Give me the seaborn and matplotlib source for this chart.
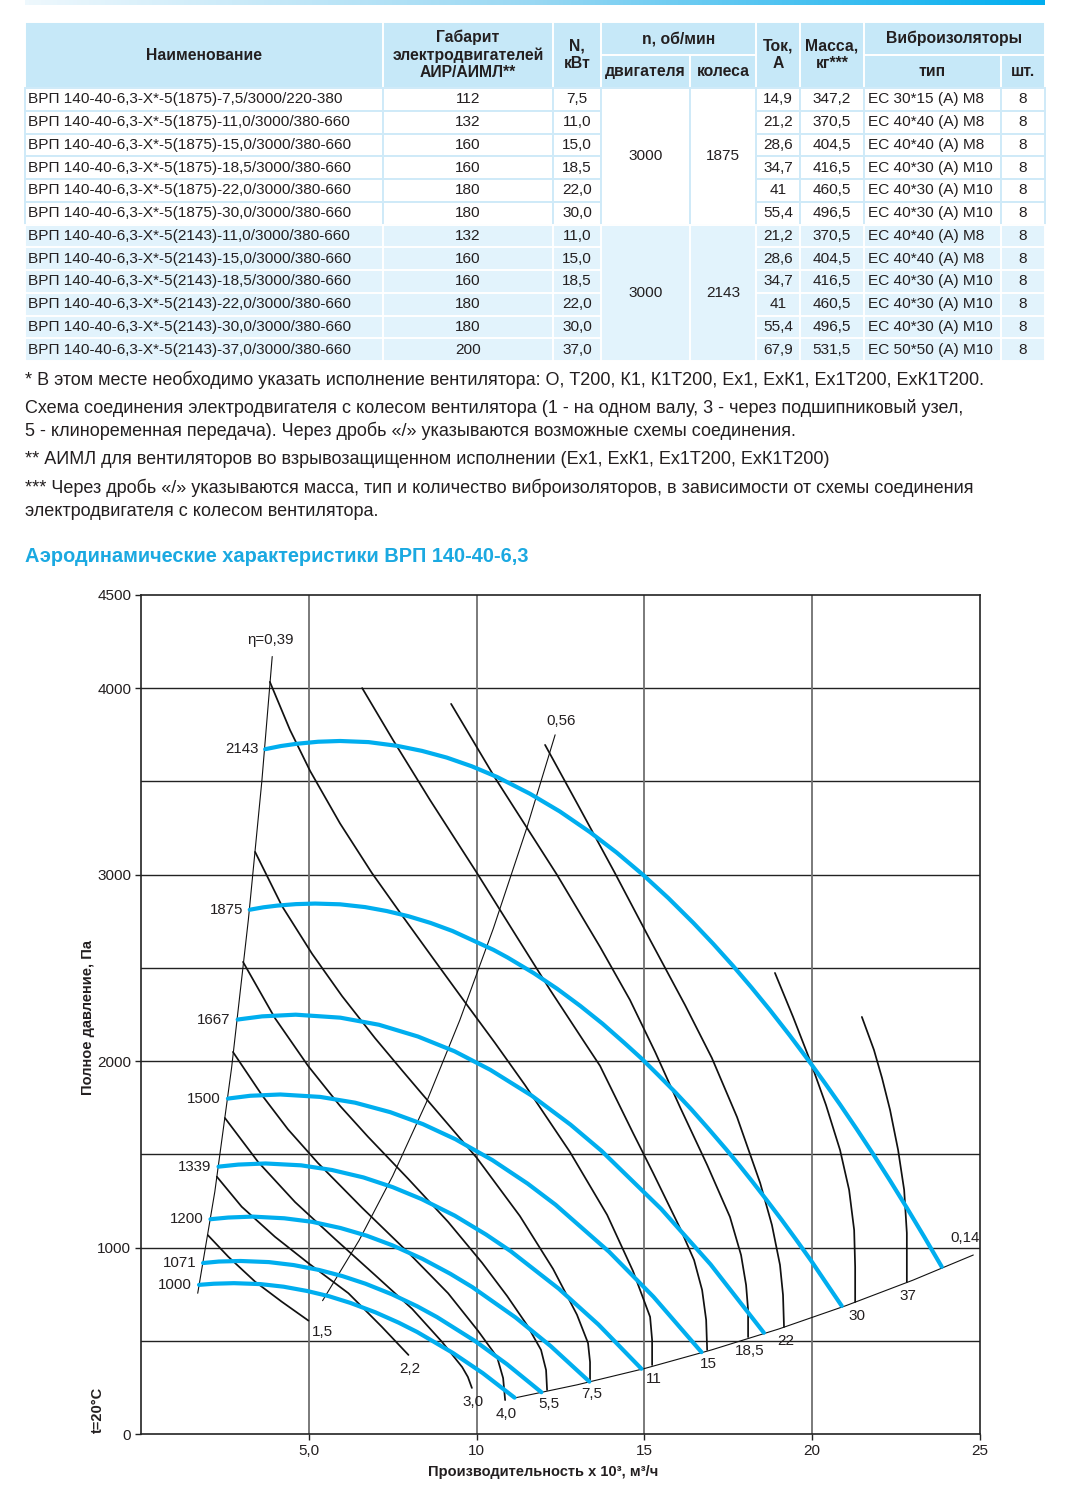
import numpy as np
import pandas as pd
import matplotlib
matplotlib.use("Agg")
import matplotlib.pyplot as plt
from matplotlib.colors import LinearSegmentedColormap
from matplotlib.patches import Rectangle
import seaborn as sns

# ---- таблица
names = [
    "ВРП 140-40-6,3-Х*-5(1875)-7,5/3000/220-380",
    "ВРП 140-40-6,3-Х*-5(1875)-11,0/3000/380-660",
    "ВРП 140-40-6,3-Х*-5(1875)-15,0/3000/380-660",
    "ВРП 140-40-6,3-Х*-5(1875)-18,5/3000/380-660",
    "ВРП 140-40-6,3-Х*-5(1875)-22,0/3000/380-660",
    "ВРП 140-40-6,3-Х*-5(1875)-30,0/3000/380-660",
    "ВРП 140-40-6,3-Х*-5(2143)-11,0/3000/380-660",
    "ВРП 140-40-6,3-Х*-5(2143)-15,0/3000/380-660",
    "ВРП 140-40-6,3-Х*-5(2143)-18,5/3000/380-660",
    "ВРП 140-40-6,3-Х*-5(2143)-22,0/3000/380-660",
    "ВРП 140-40-6,3-Х*-5(2143)-30,0/3000/380-660",
    "ВРП 140-40-6,3-Х*-5(2143)-37,0/3000/380-660",
]
gabarit = ["112", "132", "160", "160", "180", "180", "132", "160", "160", "180", "180", "200"]
power_kw = ["7,5", "11,0", "15,0", "18,5", "22,0", "30,0", "11,0", "15,0", "18,5", "22,0", "30,0", "37,0"]
n_motor = ["3000", "3000"]
n_wheel = ["1875", "2143"]
current = ["14,9", "21,2", "28,6", "34,7", "41", "55,4", "21,2", "28,6", "34,7", "41", "55,4", "67,9"]
mass = ["347,2", "370,5", "404,5", "416,5", "460,5", "496,5", "370,5", "404,5", "416,5", "460,5", "496,5", "531,5"]
vibro = ["ЕС 30*15 (А) М8", "ЕС 40*40 (А) М8", "ЕС 40*40 (А) М8", "ЕС 40*30 (А) М10",
         "ЕС 40*30 (А) М10", "ЕС 40*30 (А) М10", "ЕС 40*40 (А) М8", "ЕС 40*40 (А) М8",
         "ЕС 40*30 (А) М10", "ЕС 40*30 (А) М10", "ЕС 40*30 (А) М10", "ЕС 50*50 (А) М10"]
qty = ["8"] * 12

notes = [
    "* В этом месте необходимо указать исполнение вентилятора: О, Т200, К1, К1Т200, Ех1, ЕхК1, Ех1Т200, ЕхК1Т200.",
    "Схема соединения электродвигателя с колесом вентилятора (1 - на одном валу, 3 - через подшипниковый узел,",
    "5 - клиноременная передача). Через дробь «/» указываются возможные схемы соединения.",
    "** АИМЛ для вентиляторов во взрывозащищенном исполнении (Ех1, ЕхК1, Ех1Т200, ЕхК1Т200)",
    "*** Через дробь «/» указываются масса, тип и количество виброизоляторов, в зависимости от схемы соединения",
    "электродвигателя с колесом вентилятора.",
]

# ---- характеристики: кривые по оборотам колеса (Q, тыс. м3/ч; P, Па)
q_2143 = [3.70, 4.17, 4.64, 5.28, 5.93, 6.78, 7.63, 8.37, 9.11, 9.86, 10.61, 11.59, 12.48, 13.38, 14.17, 14.96,
          15.71, 16.46, 17.05, 17.64, 18.19, 18.74, 19.33, 19.93, 20.38, 20.83, 21.32, 21.81, 22.32, 22.82, 23.34, 23.86]
p_2143 = [3673, 3690, 3702, 3713, 3717, 3711, 3691, 3664, 3628, 3581, 3524, 3434, 3339, 3228, 3119, 2999,
          2875, 2741, 2629, 2511, 2395, 2274, 2138, 1994, 1882, 1767, 1637, 1503, 1359, 1213, 1057, 897]
q_1875 = [3.24, 3.65, 4.06, 4.62, 5.19, 5.93, 6.68, 7.32, 7.97, 8.63, 9.28, 10.50, 10.92, 11.71, 12.40, 13.09,
          13.75, 14.40, 14.92, 15.43, 15.92, 16.40, 16.91, 17.44, 17.83, 18.22, 18.65, 19.08, 19.53, 19.97, 20.42, 20.88]
p_1875 = [2812, 2825, 2834, 2842, 2845, 2841, 2826, 2805, 2777, 2741, 2698, 2597, 2556, 2471, 2388, 2296,
          2201, 2098, 2013, 1922, 1833, 1741, 1637, 1526, 1441, 1353, 1253, 1151, 1040, 929, 809, 687]
q_1667 = [2.88, 3.61, 4.61, 5.94, 7.09, 8.25, 9.34, 10.41, 11.64, 12.80, 13.72, 15.50, 16.97, 18.56]
p_1667 = [2223, 2240, 2249, 2233, 2195, 2132, 2053, 1953, 1815, 1659, 1519, 1207, 910, 543]
q_1500 = [2.59, 3.25, 4.15, 5.34, 6.38, 7.43, 8.40, 9.37, 10.47, 11.52, 12.35, 13.95, 15.27, 16.70]
p_1500 = [1799, 1814, 1821, 1808, 1777, 1726, 1662, 1581, 1469, 1343, 1230, 977, 736, 439]
q_1339 = [2.31, 2.90, 3.71, 4.77, 5.69, 6.63, 7.50, 8.36, 9.35, 10.28, 11.02, 12.45, 13.63, 14.91]
p_1339 = [1434, 1445, 1451, 1441, 1416, 1376, 1324, 1260, 1171, 1070, 980, 779, 587, 350]
q_1200 = [2.07, 2.60, 3.32, 4.27, 5.10, 5.94, 6.72, 7.49, 8.38, 9.22, 9.88, 11.16, 12.21, 13.36]
p_1200 = [1152, 1161, 1166, 1157, 1138, 1105, 1064, 1012, 940, 859, 787, 625, 471, 281]
q_1071 = [1.85, 2.32, 2.96, 3.81, 4.55, 5.30, 6.00, 6.69, 7.48, 8.23, 8.82, 9.96, 10.90, 11.93]
p_1071 = [917, 925, 928, 922, 906, 880, 847, 806, 749, 685, 627, 498, 375, 224]
q_1000 = [1.73, 2.17, 2.77, 3.56, 4.25, 4.95, 5.60, 6.24, 6.98, 7.68, 8.23, 9.30, 10.18, 11.13]
p_1000 = [800, 806, 809, 804, 790, 767, 739, 703, 653, 597, 547, 434, 327, 195]
rpm_labels = ["2143", "1875", "1667", "1500", "1339", "1200", "1071", "1000"]
rpm_q = [q_2143, q_1875, q_1667, q_1500, q_1339, q_1200, q_1071, q_1000]
rpm_p = [p_2143, p_1875, p_1667, p_1500, p_1339, p_1200, p_1071, p_1000]

# ---- кривые мощности, кВт
q_n1_5 = [1.99, 2.60, 3.40, 4.19, 4.99]
p_n1_5 = [1067, 951, 817, 710, 608]
q_n2_2 = [2.26, 3.00, 3.99, 4.99, 6.18, 7.17, 7.97]
p_n2_2 = [1380, 1219, 1058, 916, 755, 576, 424]
q_n3_0 = [2.50, 3.49, 4.59, 5.78, 6.97, 8.08, 8.97, 9.57, 9.74, 9.86]
p_n3_0 = [1695, 1459, 1244, 1046, 853, 671, 494, 359, 306, 247]
q_n4_0 = [2.74, 3.61, 4.38, 5.27, 6.59, 7.96, 9.15, 10.04, 10.61, 10.79, 10.85]
p_n4_0 = [2049, 1816, 1634, 1454, 1213, 974, 755, 554, 413, 300, 182]
q_n5_5 = [3.04, 3.99, 4.98, 5.93, 6.76, 7.96, 9.15, 10.16, 10.91, 11.50, 11.92, 12.07, 12.10]
p_n5_5 = [2532, 2231, 1974, 1760, 1595, 1369, 1138, 919, 740, 585, 451, 343, 236]
q_n7_5 = [3.40, 4.20, 5.10, 5.99, 6.97, 7.78, 8.37, 10.01, 11.29, 12.28, 12.99, 13.32, 13.38, 13.38]
p_n7_5 = [3122, 2832, 2575, 2349, 2124, 1950, 1825, 1480, 1169, 885, 640, 488, 386, 290]
q_n11 = [3.84, 4.44, 5.04, 5.93, 6.88, 7.78, 8.76, 9.65, 10.55, 11.44, 12.78, 13.89, 14.66, 15.17, 15.23, 15.23]
p_n11 = [4034, 3776, 3556, 3275, 3009, 2781, 2537, 2317, 2097, 1872, 1513, 1175, 874, 628, 504, 370]
q_n15 = [6.59, 7.51, 8.61, 10.01, 11.20, 12.19, 13.17, 13.68, 14.66, 15.26, 16.06, 16.48, 16.72, 16.84, 16.87]
p_n15 = [4001, 3722, 3401, 3009, 2666, 2382, 2113, 1974, 1615, 1400, 1105, 933, 772, 612, 451]
q_n18_5 = [9.24, 10.55, 12.40, 13.68, 14.57, 15.32, 16.06, 16.87, 17.55, 17.88, 18.03, 18.09, 18.09]
p_n18_5 = [3916, 3519, 2998, 2612, 2328, 2049, 1754, 1443, 1164, 960, 799, 665, 520]
q_n22 = [12.04, 13.02, 14.12, 15.17, 16.21, 17.01, 17.76, 18.45, 18.80, 19.04, 19.13, 19.16]
p_n22 = [3696, 3374, 3009, 2650, 2301, 2017, 1700, 1346, 1121, 907, 746, 574]
q_n30 = [18.89, 19.43, 19.93, 20.41, 20.83, 21.10, 21.25, 21.28, 21.28]
p_n30 = [2473, 2237, 2006, 1765, 1523, 1309, 1094, 896, 708]
q_n37 = [21.48, 21.84, 22.08, 22.32, 22.56, 22.74, 22.82, 22.82]
p_n37 = [2237, 2060, 1910, 1738, 1523, 1309, 1078, 815]
pw_labels = ["1,5", "2,2", "3,0", "4,0", "5,5", "7,5", "11", "15", "18,5", "22", "30", "37"]
pw_q = [q_n1_5, q_n2_2, q_n3_0, q_n4_0, q_n5_5, q_n7_5, q_n11, q_n15, q_n18_5, q_n22, q_n30, q_n37]
pw_p = [p_n1_5, p_n2_2, p_n3_0, p_n4_0, p_n5_5, p_n7_5, p_n11, p_n15, p_n18_5, p_n22, p_n30, p_n37]

# ---- линии КПД
q_eta39 = [1.69, 2.20, 2.70, 3.20, 3.60, 3.91]
p_eta39 = [755, 1300, 1965, 2760, 3500, 4170]
q_eta56 = [5.41, 6.50, 7.50, 8.50, 9.50, 10.50, 11.50, 12.34]
p_eta56 = [715, 1039, 1384, 1777, 2220, 2712, 3253, 3750]
q_eta14 = [11.10, 13.0, 15.0, 17.0, 19.0, 21.0, 23.0, 24.80]
p_eta14 = [192, 264, 351, 451, 563, 688, 825, 960]

# ---- оформление
TXT = "#231f20"
BLUE = "#00aeef"
HEAD = "#c6e8f8"
ROW2 = "#e2f3fc"
SEP = "#cfeaf8"

sns.set_theme(style="white")
plt.rcParams["font.family"] = ["Liberation Sans", "DejaVu Sans"]
plt.rcParams["text.color"] = TXT

fig = plt.figure(figsize=(10.71, 14.92), dpi=100)

# подложка в пикселях для таблицы и текста
bg = fig.add_axes([0, 0, 1, 1])
bg.set_xlim(0, 1071)
bg.set_ylim(1492, 0)
bg.axis("off")

grad = LinearSegmentedColormap.from_list("bar", ["#eef8fd", "#9ad8f3", "#00adef"])
bg.imshow(np.linspace(0, 1, 256)[None, :], extent=(25, 1045, 5, 0), aspect="auto", cmap=grad)

cols = [25, 383, 553, 601, 690, 756, 800, 864, 1001, 1045]
top, mid, hb = 22, 55, 88
rh = (361 - hb) / len(names)
FS = 11.1


def cell(x0, x1, y0, y1, fc, ec="white"):
    bg.add_patch(Rectangle((x0, y0), x1 - x0, y1 - y0, facecolor=fc, edgecolor=ec, lw=1.4))


def ctext(x0, x1, y0, y1, s, fs=FS, **kw):
    bg.text((x0 + x1) / 2, (y0 + y1) / 2, s, ha="center", va="center", fontsize=fs, **kw)


# шапка
for i in [0, 1, 2, 5, 6]:
    cell(cols[i], cols[i + 1], top, hb, HEAD)
for i in [3, 7]:
    cell(cols[i], cols[i + 2], top, mid, HEAD)
for i in [3, 4, 7, 8]:
    cell(cols[i], cols[i + 1], mid, hb, HEAD)
hk = dict(fs=11.3, fontweight="bold", linespacing=1.2)
ctext(cols[0], cols[1], top, hb, "Наименование", **hk)
ctext(cols[1], cols[2], top, hb, "Габарит\nэлектродвигателей\nАИР/АИМЛ**", **hk)
ctext(cols[2], cols[3], top, hb, "N,\nкВт", **hk)
ctext(cols[3], cols[5], top, mid, "n, об/мин", **hk)
ctext(cols[3], cols[4], mid, hb, "двигателя", **hk)
ctext(cols[4], cols[5], mid, hb, "колеса", **hk)
ctext(cols[5], cols[6], top, hb, "Ток,\nА", **hk)
ctext(cols[6], cols[7], top, hb, "Масса,\nкг***", **hk)
ctext(cols[7], cols[9], top, mid, "Виброизоляторы", **hk)
ctext(cols[7], cols[8], mid, hb, "тип", **hk)
ctext(cols[8], cols[9], mid, hb, "шт.", **hk)

# строки
for r in range(len(names)):
    y0 = hb + r * rh
    y1 = y0 + rh
    grp = 0 if r < 6 else 1
    fc, ec = ("white", SEP) if grp == 0 else (ROW2, "white")
    for i in [0, 1, 2, 5, 6, 7, 8]:
        cell(cols[i], cols[i + 1], y0, y1, fc, ec)
    bg.text(cols[0] + 3, (y0 + y1) / 2, names[r], ha="left", va="center", fontsize=FS)
    ctext(cols[1], cols[2], y0, y1, gabarit[r])
    ctext(cols[2], cols[3], y0, y1, power_kw[r])
    ctext(cols[5], cols[6], y0, y1, current[r])
    ctext(cols[6], cols[7], y0, y1, mass[r])
    bg.text(cols[7] + 4, (y0 + y1) / 2, vibro[r], ha="left", va="center", fontsize=FS)
    ctext(cols[8], cols[9], y0, y1, qty[r])
for g in range(2):
    y0 = hb + g * 6 * rh
    y1 = y0 + 6 * rh
    fc, ec = ("white", SEP) if g == 0 else (ROW2, "white")
    cell(cols[3], cols[4], y0, y1, fc, ec)
    cell(cols[4], cols[5], y0, y1, fc, ec)
    ctext(cols[3], cols[4], y0, y1, n_motor[g])
    ctext(cols[4], cols[5], y0, y1, n_wheel[g])

# примечания и заголовок
for s, y in zip(notes, [380, 408, 431, 460, 488, 511]):
    bg.text(25, y, s, ha="left", va="center", fontsize=13.0)
bg.text(25, 557, "Аэродинамические характеристики ВРП 140-40-6,3", ha="left", va="center",
        fontsize=14.4, fontweight="bold", color="#1ba9e1")

# ---- график
ax = fig.add_axes([141 / 1071, 58 / 1492, 839 / 1071, 839 / 1492])

rpm_df = pd.concat([pd.DataFrame({"Q": q, "P": p, "n": lab})
                    for lab, q, p in zip(rpm_labels, rpm_q, rpm_p)], ignore_index=True)
pw_df = pd.concat([pd.DataFrame({"Q": q, "P": p, "N": lab})
                   for lab, q, p in zip(pw_labels, pw_q, pw_p)], ignore_index=True)
eta_df = pd.concat([pd.DataFrame({"Q": q, "P": p, "eta": lab})
                    for lab, q, p in zip(["0,39", "0,56", "0,14"],
                                         [q_eta39, q_eta56, q_eta14],
                                         [p_eta39, p_eta56, p_eta14])], ignore_index=True)

sns.lineplot(data=eta_df, x="Q", y="P", units="eta", estimator=None, sort=False,
             color="#111111", lw=0.8, ax=ax, zorder=3)
sns.lineplot(data=pw_df, x="Q", y="P", units="N", estimator=None, sort=False,
             color="#111111", lw=1.25, ax=ax, zorder=3)
sns.lineplot(data=rpm_df, x="Q", y="P", units="n", estimator=None, sort=False,
             color=BLUE, lw=3.0, ax=ax, zorder=4, solid_joinstyle="round")

ax.set_xlim(0, 25)
ax.set_ylim(0, 4500)
ax.set_xticks([5, 10, 15, 20, 25])
ax.set_xticklabels(["5,0", "10", "15", "20", "25"])
ax.set_yticks([0, 1000, 2000, 3000, 4000, 4500])
ax.set_yticklabels(["0", "1000", "2000", "3000", "4000", "4500"])
for y in range(500, 4500, 500):
    ax.axhline(y, color="#222222", lw=1.0, zorder=1)
for x in [5, 10, 15, 20]:
    ax.axvline(x, color="#6f6f6f", lw=1.3, zorder=1)
for sp in ax.spines.values():
    sp.set_color("#222222")
    sp.set_linewidth(1.2)
ax.tick_params(axis="both", which="major", direction="out", length=4, width=1, color="#222222",
               labelsize=11, labelcolor=TXT, pad=3, left=True, bottom=True)

ax.set_xlabel("Производительность х 10³, м³/ч", fontsize=10.5, fontweight="bold", color=TXT)
ax.set_ylabel("Полное давление, Па", fontsize=10.5, fontweight="bold", color=TXT)
ax.xaxis.set_label_coords(0.479, -0.037)
ax.yaxis.set_label_coords(-0.055, 0.496)
ax.text(-0.051, 0.029, "t=20°C", transform=ax.transAxes, rotation=90, ha="center", va="center",
        fontsize=10.5, fontweight="bold")

# подписи оборотов
for lab, q, p in zip(rpm_labels, rpm_q, rpm_p):
    ax.annotate(lab, (q[0], p[0]), xytext=(-5, 0), textcoords="offset points",
                ha="right", va="center", fontsize=10.8)
# подписи мощности
for lab, q, p in zip(pw_labels, pw_q, pw_p):
    off = (10, -8) if lab == "1,5" else (1, -10)
    ax.annotate(lab, (q[-1], p[-1]), xytext=off, textcoords="offset points",
                ha="center", va="center", fontsize=11)
# подписи КПД
ax.annotate("η=0,39", (q_eta39[-1], p_eta39[-1]), xytext=(-1, 12), textcoords="offset points",
            ha="center", va="center", fontsize=10.8)
ax.annotate("0,56", (q_eta56[-1], p_eta56[-1]), xytext=(4, 10), textcoords="offset points",
            ha="center", va="center", fontsize=10.8)
ax.annotate("0,14", (q_eta14[-1], p_eta14[-1]), xytext=(-6, 12), textcoords="offset points",
            ha="center", va="center", fontsize=10.8)

fig.savefig("out.png", dpi=100)
